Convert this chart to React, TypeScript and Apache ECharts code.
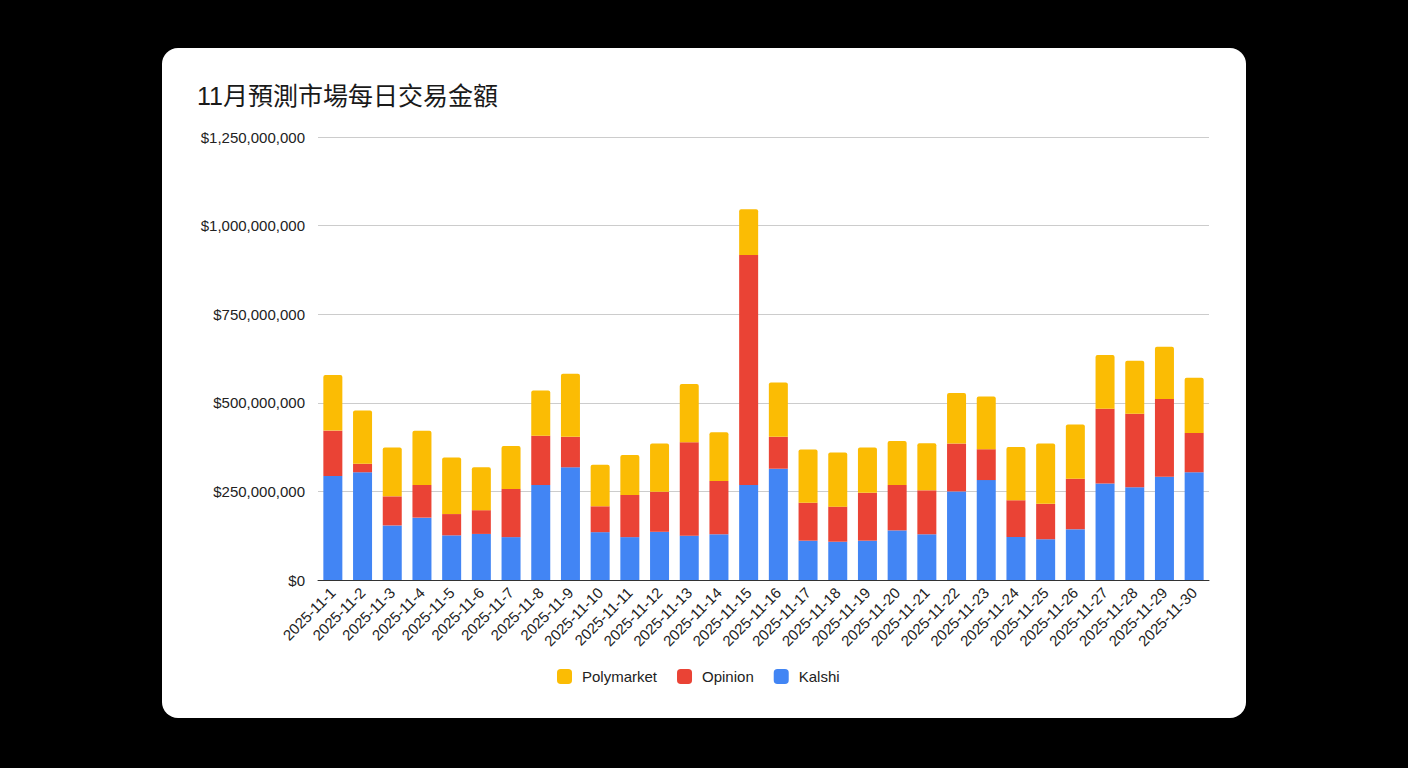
import React, { useEffect, useRef } from "react";
import * as echarts from "echarts";

const days: string[] = Array.from({ length: 30 }, (_, i) => `2025-11-${i + 1}`);

// values in millions of USD
const kalshi = [293.5, 304, 154, 176, 126, 130, 121, 268, 318, 135, 121, 136, 125, 129, 268, 314, 111, 108, 111, 140, 129, 250, 282, 121, 115, 143, 272, 262, 291, 304];
const opinion = [128, 24, 82, 92, 60, 67, 136, 139, 86, 73, 119, 113, 264, 150, 649, 90, 107, 99, 135, 128, 124, 135, 87, 104, 100, 143, 211, 207, 220, 111];
const polymarket = [157, 150, 138, 153, 160, 121, 121, 128, 178, 117, 113, 136, 164, 138, 129, 153, 150, 153, 128, 124, 133, 143, 149, 150, 170, 153, 152, 150, 147, 156];

const yMax = 1250000000;
const yStep = 250000000;

const font = "'Liberation Sans', Arial, 'Noto Sans CJK TC', sans-serif";
const toUsd = (arr: number[]) => arr.map(v => v * 1e6);

const App: React.FC = () => {
  const chartRef = useRef<HTMLDivElement>(null);

  useEffect(() => {
    if (!chartRef.current) return;
    const chart = echarts.init(chartRef.current, undefined, { renderer: "svg" });

    chart.setOption({
      animation: false,
      backgroundColor: "#000",
      textStyle: { fontFamily: font },
      graphic: [
        {
          type: "rect",
          z: -10,
          shape: { x: 162, y: 48, width: 1084, height: 670, r: 16 },
          style: { fill: "#fff" },
        },
      ],
      title: {
        text: "11月預測市場每日交易金額",
        left: 192,
        top: 78,
        textStyle: { fontSize: 25, fontWeight: "normal", color: "#1a1a1a", fontFamily: font },
      },
      legend: {
        left: 552,
        top: 664,
        itemWidth: 15,
        itemHeight: 15,
        itemGap: 20,
        icon: "roundRect",
        data: ["Polymarket", "Opinion", "Kalshi"],
        textStyle: { fontSize: 15, color: "#222", padding: [0, 0, 0, 5] },
      },
      grid: { left: 318, right: 199, top: 137, bottom: 188, containLabel: false },
      xAxis: {
        type: "category",
        data: days,
        axisTick: { show: false },
        axisLine: { lineStyle: { color: "#333", width: 1 } },
        axisLabel: { rotate: 45, interval: 0, fontSize: 15, color: "#222", margin: 10 },
      },
      yAxis: {
        type: "value",
        min: 0,
        max: yMax,
        interval: yStep,
        axisLine: { show: false },
        axisTick: { show: false },
        splitLine: { lineStyle: { color: "#ccc" } },
        axisLabel: {
          fontSize: 15,
          color: "#222",
          margin: 13,
          formatter: (v: number) => "$" + v.toLocaleString("en-US"),
        },
      },
      series: [
        {
          name: "Kalshi",
          type: "bar",
          stack: "total",
          barWidth: 19,
          itemStyle: { color: "#4285F4" },
          data: toUsd(kalshi),
        },
        {
          name: "Opinion",
          type: "bar",
          stack: "total",
          barWidth: 19,
          itemStyle: { color: "#EA4335" },
          data: toUsd(opinion),
        },
        {
          name: "Polymarket",
          type: "bar",
          stack: "total",
          barWidth: 19,
          itemStyle: { color: "#FBBC04", borderRadius: [2, 2, 0, 0] },
          data: toUsd(polymarket),
        },
      ],
    });

    return () => {
      chart.dispose();
    };
  }, []);

  return (
    <div
      ref={chartRef}
      style={{ position: "fixed", left: 0, top: 0, width: "1408px", height: "768px" }}
    />
  );
};

export default App;
